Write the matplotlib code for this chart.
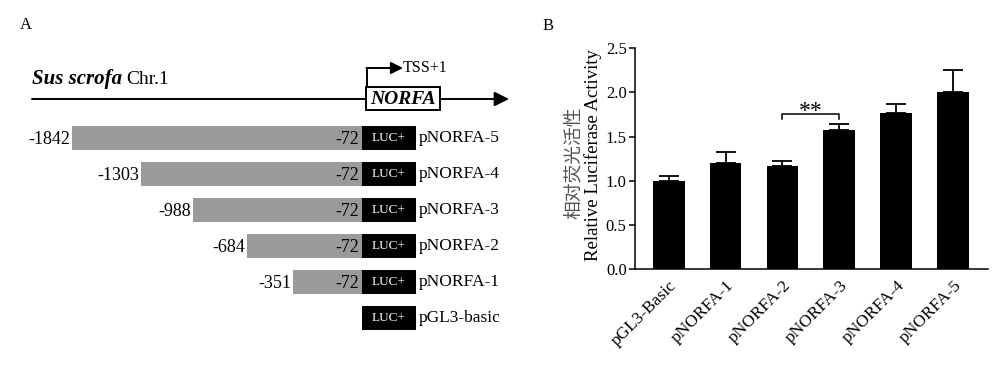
import numpy as np
import matplotlib.pyplot as plt
from matplotlib.patches import Rectangle

plt.rcParams['font.family'] = ['Liberation Serif', 'Noto Sans CJK SC']

# panel A: promoter deletion constructs
construct_names = ['pNORFA-5', 'pNORFA-4', 'pNORFA-3', 'pNORFA-2', 'pNORFA-1', 'pGL3-basic']
start_labels = ['-1842', '-1303', '-988', '-684', '-351', None]
end_label = '-72'
# schematic (not to scale) left edge of each fragment, diagram units
frag_left = [72, 141, 193, 247, 293, None]

# panel B: luciferase assay
groups = ['pGL3-Basic', 'pNORFA-1', 'pNORFA-2', 'pNORFA-3', 'pNORFA-4', 'pNORFA-5']
activity = [1.00, 1.20, 1.17, 1.575, 1.765, 2.01]
sem = [0.06, 0.13, 0.05, 0.065, 0.105, 0.25]
sig_pair = (2, 3)
sig_text = '**'

fig = plt.figure(figsize=(10, 3.65), dpi=100)

# ---------- panel A ----------
ax = fig.add_axes([0, 0, 0.52, 1])
ax.set_xlim(0, 520)
ax.set_ylim(365, 0)
ax.axis('off')

frag_right = 362
luc_w = 54
row0, row_step, bar_h = 138, 36, 24
rows = row0 + row_step * np.arange(len(construct_names))

for i, name in enumerate(construct_names):
    y = rows[i]
    if frag_left[i] is not None:
        ax.barh(y, frag_right - frag_left[i], left=frag_left[i], height=bar_h,
                color='#9a9a9a', edgecolor='none')
        ax.text(frag_left[i] - 2, y + 1, start_labels[i], ha='right', va='center', fontsize=13)
        ax.text(frag_right - 3, y + 2, end_label, ha='right', va='center', fontsize=13)
    ax.barh(y, luc_w, left=frag_right, height=bar_h, color='black', edgecolor='none')
    ax.text(frag_right + luc_w / 2, y, 'LUC+', color='white', ha='center', va='center', fontsize=9.5)
    ax.text(frag_right + luc_w + 3, y, name, ha='left', va='center', fontsize=12.5)

ax.text(20, 25, 'A', ha='left', va='center', fontsize=12)

# chromosome line
chr_y = 99
ax.annotate('', xy=(509, chr_y), xytext=(32, chr_y),
            arrowprops=dict(arrowstyle='-|>', lw=1.4, color='black', mutation_scale=22,
                            shrinkA=0, shrinkB=0))
t1 = ax.text(32, 79, 'Sus scrofa', ha='left', va='center', fontsize=15,
             fontweight='bold', fontstyle='italic')
fig.canvas.draw()
bb = t1.get_window_extent().transformed(ax.transData.inverted())
ax.text(bb.x1 + 4, 79, 'Chr.1', ha='left', va='center', fontsize=14)

# gene box
ax.add_patch(Rectangle((366, 87), 74, 23, facecolor='white', edgecolor='black', lw=1.4, zorder=3))
ax.text(403, 99.5, 'NORFA', ha='center', va='center', fontsize=14,
        fontweight='bold', fontstyle='italic', zorder=4)

# TSS arrow
ax.plot([367, 367], [87, 68], color='black', lw=1.4, solid_capstyle='butt')
ax.annotate('', xy=(403, 68), xytext=(366.5, 68),
            arrowprops=dict(arrowstyle='-|>', lw=1.4, color='black', mutation_scale=18,
                            shrinkA=0, shrinkB=0))
ax.text(403, 68, 'TSS+1', ha='left', va='center', fontsize=11.5)

# ---------- panel B ----------
bx = fig.add_axes([0.635, 0.2622, 0.353, 0.6055])
x = np.arange(len(groups))
bx.bar(x, activity, width=0.56, color='black', zorder=2)
bx.errorbar(x, activity, yerr=[np.zeros(len(sem)), sem], fmt='none', ecolor='black',
            elinewidth=1.3, capsize=7, capthick=1.3, zorder=1)
bx.set_xlim(-0.59, 5.61)
bx.set_ylim(0, 2.5)
bx.set_yticks(np.arange(0, 2.51, 0.5))
bx.set_yticklabels([f'{v:.1f}' for v in np.arange(0, 2.51, 0.5)], fontsize=12)
bx.set_xticks(x)
bx.set_xticklabels(groups, rotation=45, ha='right', rotation_mode='anchor', fontsize=12.5)
bx.tick_params(axis='x', length=0, pad=6)
bx.tick_params(axis='y', length=4, width=1.1, pad=2)
for s in ['top', 'right']:
    bx.spines[s].set_visible(False)
for s in ['left', 'bottom']:
    bx.spines[s].set_linewidth(1.1)

# significance bracket
a, b = sig_pair
top = 1.757
bx.plot([a, a, b, b], [top - 0.06, top, top, top - 0.06], color='black', lw=1.1)
bx.text((a + b) / 2, top + 0.03, sig_text, ha='center', va='center', fontsize=17)

fig.text(0.573, 0.555, '相对荧光活性', rotation=90, ha='center', va='center',
         fontsize=13.5, color='#555555', family=['Noto Sans CJK SC', 'Liberation Serif'])
fig.text(0.593, 0.575, 'Relative Luciferase Activity', rotation=90, ha='center', va='center',
         fontsize=13.5)
fig.text(0.543, 0.93, 'B', ha='left', va='center', fontsize=12)

fig.savefig('out.png', dpi=100)
